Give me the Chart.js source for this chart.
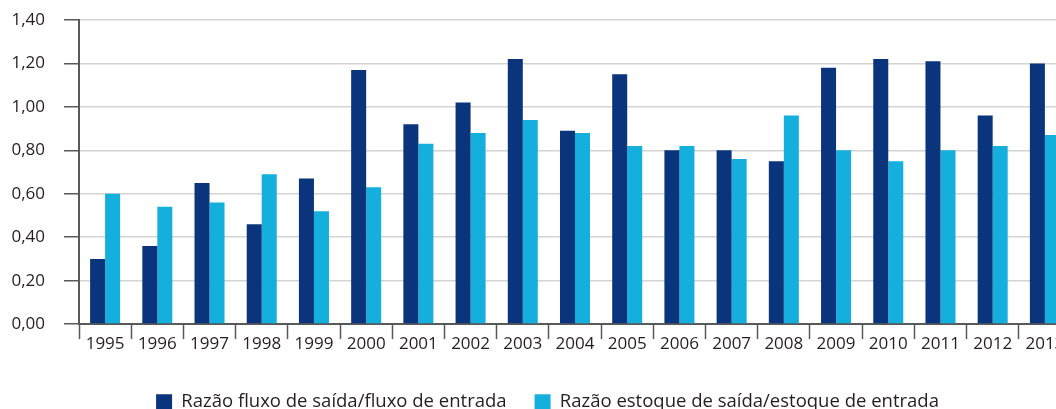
<!DOCTYPE html>
<html>
<head>
<meta charset="utf-8">
<script src="https://cdn.jsdelivr.net/npm/chart.js@4/dist/chart.umd.min.js"></script>
<style>
    html, body { margin: 0; padding: 0; background: #ffffff; overflow: hidden; }
    #wrap { width: 1100px; height: 409px; }
</style>
</head>
<body>
<div id="wrap"><canvas id="chart" width="1100" height="409"></canvas></div>
<script>
const years = ['1995', '1996', '1997', '1998', '1999', '2000', '2001', '2002', '2003', '2004',
               '2005', '2006', '2007', '2008', '2009', '2010', '2011', '2012', '2013'];
const fluxoRatio = [0.30, 0.36, 0.65, 0.46, 0.67, 1.17, 0.92, 1.02, 1.22, 0.89,
                    1.15, 0.80, 0.80, 0.75, 1.18, 1.22, 1.21, 0.96, 1.20];
const estoqueRatio = [0.60, 0.54, 0.56, 0.69, 0.52, 0.63, 0.83, 0.88, 0.94, 0.88,
                      0.82, 0.82, 0.76, 0.96, 0.80, 0.75, 0.80, 0.82, 0.87];
const seriesNames = ['Razão fluxo de saída/fluxo de entrada', 'Razão estoque de saída/estoque de entrada'];

const textColor = '#231f20';
const axisColor = '#58595b';
const fontFamily = '"Open Sans", "Noto Sans", sans-serif';

// the legend in the source is centred a bit right of the plot, nudge it over
const legendShift = {
    id: 'legendShift',
    afterLayout(chart) {
        chart.legend.left += 12;
        chart.legend.right += 12;
    }
};

new Chart(document.getElementById('chart'), {
    type: 'bar',
    data: {
        labels: years,
        datasets: [
            {
                label: seriesNames[0],
                data: fluxoRatio,
                backgroundColor: '#0a357c',
                borderWidth: 0
            },
            {
                label: seriesNames[1],
                data: estoqueRatio,
                backgroundColor: '#14afdd',
                borderWidth: 0
            }
        ]
    },
    plugins: [legendShift],
    options: {
        responsive: false,
        animation: false,
        layout: {
            padding: { left: 0, right: 29, top: 20, bottom: -12 }
        },
        datasets: {
            bar: { categoryPercentage: 0.575, barPercentage: 1.0 }
        },
        plugins: {
            legend: {
                display: true,
                position: 'bottom',
                labels: {
                    color: textColor,
                    font: { family: fontFamily, size: 18.5 },
                    boxWidth: 16,
                    boxHeight: 15,
                    padding: 28
                }
            },
            tooltip: { enabled: false }
        },
        scales: {
            x: {
                afterFit: function(axis) { axis.height += 15; },
                grid: {
                    offset: true,
                    drawOnChartArea: false,
                    drawTicks: true,
                    tickLength: 15,
                    tickColor: axisColor,
                    tickWidth: 1.5
                },
                border: { color: axisColor, width: 2 },
                ticks: {
                    color: textColor,
                    font: { family: fontFamily, size: 17 },
                    padding: -5,
                    maxRotation: 0,
                    autoSkip: false
                }
            },
            y: {
                min: 0,
                max: 1.4,
                afterFit: function(axis) {
                    axis.width = 79;
                    axis.paddingTop = 0;
                    axis.paddingBottom = 0;
                },
                grid: {
                    color: '#d4d4d4',
                    lineWidth: 1.5,
                    drawTicks: true,
                    tickLength: 15,
                    tickColor: axisColor,
                    tickWidth: 1.5
                },
                border: { color: axisColor, width: 2 },
                ticks: {
                    stepSize: 0.2,
                    color: textColor,
                    font: { family: fontFamily, size: 17 },
                    padding: 19,
                    callback: function(value) {
                        return value.toFixed(2).replace('.', ',');
                    }
                }
            }
        }
    }
});
</script>
</body>
</html>
